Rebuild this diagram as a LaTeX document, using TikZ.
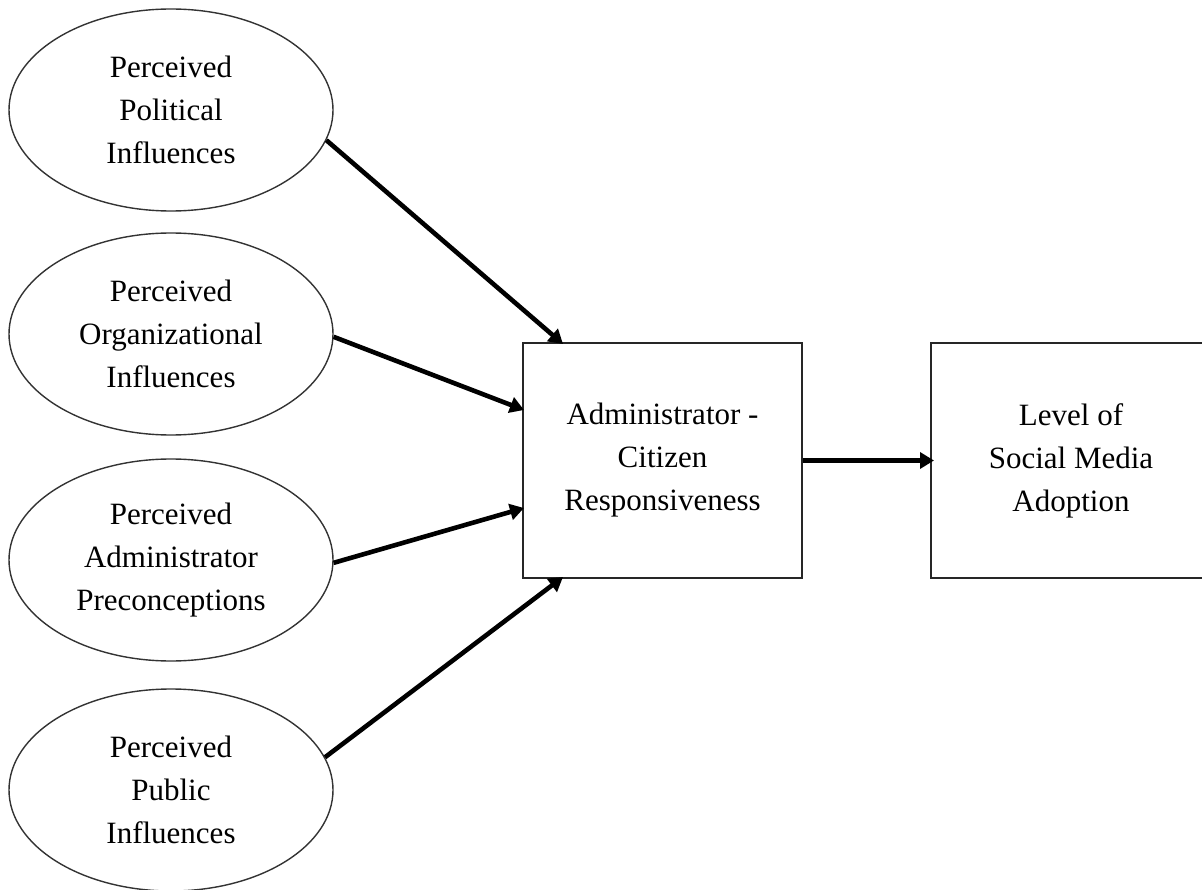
\documentclass[tikz,border=0pt]{standalone}
\usepackage{fontspec}
\setmainfont{Liberation Serif}
\usetikzlibrary{shapes.geometric,arrows.meta}
\begin{document}
\begin{tikzpicture}[x=1pt,y=-1pt,
  factor/.style={draw=black!80,line width=1.4pt,ellipse,minimum width=324pt,minimum height=202pt,inner sep=0pt,align=center,font=\fontsize{31}{43}\selectfont},
  block/.style={draw=black!85,line width=2pt,rectangle,inner sep=0pt,align=center,font=\fontsize{31}{43}\selectfont},
  link/.style={line width=4.6pt,-{Triangle[length=14pt,width=16pt]}}]
\useasboundingbox (0,0) rectangle (1202,890);
% latent factors
\node[factor] (e1) at (171,110) {Perceived\\Political\\Influences};
\node[factor] (e2) at (171,334) {Perceived\\Organizational\\Influences};
\node[factor] (e3) at (171,560) {Perceived\\Administrator\\Preconceptions};
\node[factor] (e4) at (171,790) {Perceived\\Public\\Influences};
% mediator and outcome
\node[block,minimum width=279pt,minimum height=235pt] (acr) at (662.5,460.5) {Administrator -\\Citizen\\Responsiveness};
\node[block,minimum width=280pt,minimum height=235pt] (smA) at (1071,460.5) {Level of\\Social Media\\Adoption};
% arrow targets on the mediator box
\coordinate (t1) at (563,344);
\coordinate (t2) at (524,410);
\coordinate (t3) at (524,508);
\coordinate (t4) at (563,577);
\coordinate (t5) at (934,460.5);
\draw[link] (e1.-11) -- (t1);
\draw[link] (e2.-1) -- (t2);
\draw[link] (e3.-1) -- (t3);
\draw[link] (e4.12) -- (t4);
\draw[link] (acr.east) -- (t5);
\end{tikzpicture}
\end{document}
